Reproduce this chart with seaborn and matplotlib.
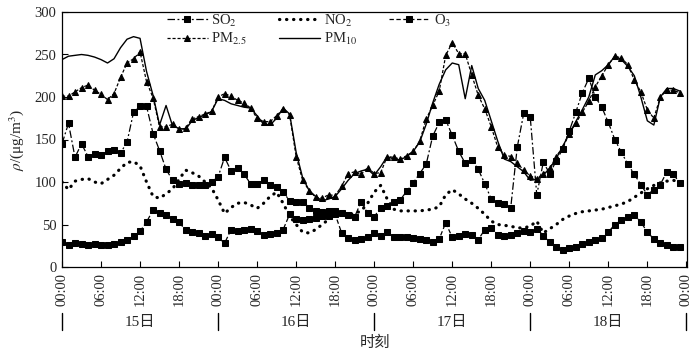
# Concentraciones horarias de contaminantes, días 15-18

import pandas as pd
import matplotlib
matplotlib.use('Agg')
import matplotlib.pyplot as plt
import seaborn as sns

# -------------------------- Datos --------------------------

horas = list(range(96))

so2 = [145, 169, 129, 145, 130, 133, 132, 136, 138, 134,
       147, 182, 189, 189, 157, 137, 115, 102, 98, 99,
       96, 96, 96, 100, 106, 129, 113, 116, 109, 98,
       98, 102, 96, 94, 88, 78, 77, 77, 70, 66,
       65, 66, 66, 63, 61, 59, 77, 63, 59, 70,
       72, 77, 79, 89, 99, 110, 121, 154, 170, 173,
       155, 136, 122, 126, 115, 98, 80, 75, 74, 70,
       141, 181, 176, 85, 123, 110, 125, 139, 160, 182,
       205, 222, 200, 188, 170, 150, 135, 121, 109, 97,
       85, 91, 97, 112, 109, 99]

no2 = [100, 91, 101, 103, 104, 100, 98, 103, 108, 116,
       123, 124, 119, 100, 83, 81, 86, 92, 103, 114,
       111, 107, 100, 93, 79, 63, 70, 75, 76, 73,
       69, 75, 83, 88, 75, 60, 50, 41, 40, 44,
       50, 56, 60, 62, 62, 63, 66, 75, 88, 96,
       80, 68, 66, 66, 66, 66, 67, 68, 71, 85,
       91, 86, 80, 75, 69, 62, 54, 50, 49, 48,
       46, 46, 48, 54, 40, 45, 50, 56, 60, 63,
       65, 66, 67, 68, 70, 72, 74, 77, 82, 87,
       92, 96, 99, 101, 102, 100]

o3 = [29, 26, 28, 27, 26, 27, 26, 26, 27, 29,
      32, 36, 42, 53, 67, 63, 61, 57, 53, 43,
      41, 40, 37, 39, 35, 28, 44, 42, 43, 45,
      42, 38, 39, 40, 44, 62, 56, 55, 56, 58,
      60, 60, 62, 40, 34, 32, 33, 35, 40, 37,
      41, 35, 35, 35, 34, 33, 32, 29, 33, 52,
      35, 36, 39, 38, 32, 44, 46, 38, 36, 38,
      40, 42, 41, 45, 37, 29, 24, 20, 22, 24,
      27, 29, 32, 34, 41, 50, 55, 59, 61, 53,
      41, 33, 28, 26, 24, 23]

pm25 = [201, 201, 206, 211, 214, 208, 203, 197, 204, 223,
        240, 245, 253, 218, 199, 165, 165, 168, 162, 163,
        174, 177, 180, 183, 200, 204, 201, 196, 193, 187,
        175, 171, 171, 178, 186, 179, 130, 102, 90, 82,
        81, 85, 84, 95, 110, 112, 109, 117, 110, 111,
        130, 129, 127, 131, 136, 148, 174, 190, 207, 249,
        264, 251, 251, 226, 202, 186, 165, 141, 132, 130,
        122, 114, 107, 104, 110, 116, 130, 141, 157, 169,
        182, 195, 212, 225, 238, 248, 246, 238, 220, 206,
        185, 175, 200, 208, 208, 205]

pm10 = [244, 248, 249, 250, 249, 247, 244, 240, 245, 258,
        268, 271, 269, 230, 202, 167, 190, 166, 163, 162,
        172, 176, 179, 183, 198, 196, 192, 190, 188, 187,
        178, 168, 167, 175, 187, 180, 135, 105, 90, 83,
        78, 80, 83, 92, 102, 110, 113, 115, 108, 118,
        130, 127, 126, 130, 136, 147, 168, 193, 215, 232,
        240, 238, 198, 237, 210, 196, 172, 148, 127, 124,
        118, 112, 102, 103, 108, 116, 128, 142, 157, 171,
        185, 200, 226, 231, 238, 248, 244, 236, 225, 200,
        172, 167, 200, 210, 210, 207]

etiquetas_x = ['00:00', '06:00', '12:00', '18:00'] * 4 + ['00:00']
dias = ['15日', '16日', '17日', '18日']

df = pd.DataFrame({'hora': horas, 'SO2': so2, 'NO2': no2, 'O3': o3,
                   'PM25': pm25, 'PM10': pm10})

# -------------------------- Estilo --------------------------

sns.set_style('ticks')
plt.rcParams['font.family'] = ['Liberation Serif', 'Noto Sans CJK SC']
plt.rcParams['mathtext.fontset'] = 'stix'

fig = plt.figure(figsize=(7, 3.55), dpi=100)
ax = fig.add_axes([62 / 700, 1 - 267 / 355, 625 / 700, 255 / 355])

# -------------------------- Series --------------------------

sns.lineplot(data=df, x='hora', y='SO2', ax=ax, color='black', lw=0.9,
             linestyle=(0, (6, 2, 1.5, 2)), marker='s', markersize=5,
             markeredgecolor='black', label='SO$_2$')
sns.lineplot(data=df, x='hora', y='NO2', ax=ax, color='black', lw=2.3,
             linestyle=(0, (0.1, 2.1)), dash_capstyle='round', label='NO$_2$')
sns.lineplot(data=df, x='hora', y='O3', ax=ax, color='black', lw=0.9,
             linestyle=(0, (3.5, 2)), marker='s', markersize=5,
             markeredgecolor='black', label='O$_3$')
sns.lineplot(data=df, x='hora', y='PM25', ax=ax, color='black', lw=0.9,
             linestyle=(0, (2.5, 1.5)), marker='^', markersize=4.8,
             markeredgecolor='black', label='PM$_{2.5}$')
sns.lineplot(data=df, x='hora', y='PM10', ax=ax, color='black', lw=1.0,
             label='PM$_{10}$')

# -------------------------- Ejes --------------------------

ax.set_xlim(0, 96.1)
ax.set_ylim(0, 300)
ax.set_yticks(range(0, 301, 50))
ax.set_xticks(range(0, 97, 6))
ax.set_xticklabels(etiquetas_x, rotation=90, fontsize=10.5)
ax.tick_params(axis='y', labelsize=10.5)
ax.tick_params(direction='in', length=4, width=0.8, color='black', pad=4)
for s in ax.spines.values():
    s.set_visible(True)
    s.set_color('black')
    s.set_linewidth(0.9)

ax.set_xlabel('')
ax.set_ylabel(r'$\rho$/(μg/m$^3$)', fontsize=11)
ax.yaxis.set_label_coords(-0.058, 0.5)

# Separadores y etiquetas de día
trans = ax.get_xaxis_transform()
for d in range(0, 97, 24):
    ax.plot([d, d], [-0.18, -0.247], color='black', lw=1, transform=trans,
            clip_on=False)
for i, dia in enumerate(dias):
    ax.text(12 + 24 * i, -0.216, dia, transform=trans, ha='center',
            va='center', fontsize=11)

fig.text(375 / 700, 1 - 342 / 355, '时刻', ha='center', va='center',
         fontsize=11, family=['Noto Sans CJK SC'])

# Leyenda: dos filas (SO2, NO2, O3 / PM2.5, PM10)
h, l = ax.get_legend_handles_labels()
orden = [0, 3, 1, 4, 2]
ax.legend([h[i] for i in orden], [l[i] for i in orden], ncol=3,
          loc='upper left', bbox_to_anchor=((167 - 62) / 625, 0.998),
          frameon=False, fontsize=10.5, handlelength=2.8, handletextpad=0.25,
          columnspacing=2.2, labelspacing=0.15, borderpad=0, borderaxespad=0,
          numpoints=1)

fig.savefig('out.png', dpi=100)
